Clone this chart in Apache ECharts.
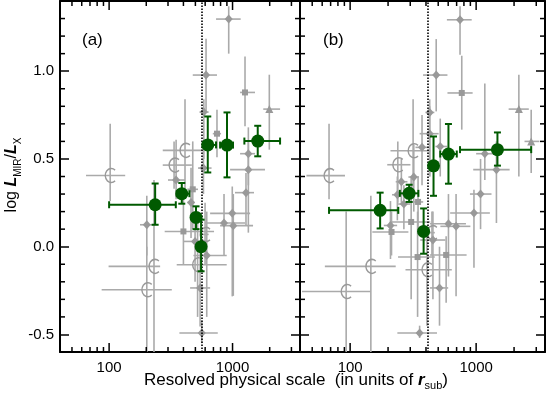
<!DOCTYPE html>
<html>
<head>
<meta charset="utf-8">
<script src="https://cdn.jsdelivr.net/npm/echarts@6.0.0/dist/echarts.min.js"></script>
<style>
  html, body { margin: 0; padding: 0; background: #fff; }
  #chart { width: 546px; height: 396px; }
</style>
</head>
<body>
<div id="chart"></div>
<script>
// axis ranges and ticks
const xMin = 40, xMax = 3520;
const yMin = -0.6, yMax = 1.4;
const xMajor = [100, 1000];
const xMinor = [50, 60, 70, 80, 90, 200, 300, 400, 500, 600, 700, 800, 900, 2000, 3000];
const yMajor = [-0.5, 0, 0.5, 1.0];
const yMinor = [-0.4, -0.3, -0.2, -0.1, 0.1, 0.2, 0.3, 0.4, 0.6, 0.7, 0.8, 0.9, 1.1, 1.2, 1.3];
const cutA = 563, cutB = 415;

// each row: [scale, logL, scaleLo, scaleHi, logLLo, logLHi]
// panel (a)
const greenA = [
  [236, 0.239, 100, 347, 0.125, 0.36],
  [388, 0.302, 353, 447, 0.245, 0.363],
  [506, 0.167, 481, 531, 0.10, 0.23],
  [556, 0.0, 536, 577, -0.14, 0.154],
  [630, 0.58, 574, 735, 0.423, 0.742],
  [902, 0.579, 793, 1009, 0.395, 0.765],
  [1600, 0.602, 1247, 2427, 0.515, 0.689]
];
const diamondA = [
  [931, 1.297, 735, 1164, 1.10, 1.37],
  [610, 0.978, 476, 748, 0.77, 1.185],
  [585, 0.767, 540, 640, 0.50, 0.84],
  [1343, 0.53, 1151, 1521, 0.35, 0.68],
  [1343, 0.439, 955, 1832, 0.08, 0.60],
  [1285, 0.308, 1047, 1493, 0.12, 0.42],
  [995, 0.19, 658, 1387, -0.283, 0.343],
  [853, 0.135, 599, 1262, -0.05, 0.30],
  [1014, 0.12, 793, 1466, -0.28, 0.30],
  [202, 0.125, 178, 227, -0.05, 0.29],
  [546, -0.235, 453, 658, -0.454, 0.0],
  [563, -0.492, 371, 759, -0.55, -0.42],
  [618, -0.05, 482, 897, -0.40, 0.20],
  [349, 0.38, 300, 412, 0.27, 0.61],
  [461, 0.252, 430, 495, 0.05, 0.45],
  [581, 0.448, 525, 676, 0.30, 0.60],
  [497, 0.03, 398, 631, -0.2, 0.2]
];
const squareA = [
  [1262, 0.879, 1151, 1521, 0.686, 1.084],
  [748, 0.644, 692, 807, 0.51, 0.78],
  [400, 0.087, 282, 708, -0.10, 0.30],
  [476, 0.327, 430, 525, 0.10, 0.60]
];
const triangleA = [
  [1986, 0.784, 1774, 2427, 0.553, 0.98]
];
const openA = [
  [102, 0.406, 65, 135, 0.26, 0.70],
  [336, 0.465, 272, 468, 0.33, 0.60],
  [412, 0.549, 272, 581, 0.30, 0.84],
  [231, -0.112, 99, 259, -0.8, 0.38],
  [202, -0.245, 87, 322, -0.8, 0.0],
  [599, 0.07, 560, 640, -0.10, 0.25],
  [521, -0.103, 353, 897, -0.40, 0.20]
];

// panel (b)
const greenB = [
  [173, 0.207, 68, 241, 0.104, 0.308],
  [294, 0.304, 248, 348, 0.255, 0.353],
  [383, 0.087, 368, 398, -0.04, 0.218],
  [459, 0.461, 442, 477, 0.29, 0.628],
  [603, 0.528, 519, 702, 0.359, 0.699],
  [1476, 0.553, 745, 2735, 0.462, 0.651]
];
const diamondB = [
  [745, 1.293, 586, 922, 1.094, 1.37],
  [482, 0.978, 379, 592, 0.771, 1.183],
  [428, 0.765, 396, 466, 0.40, 0.84],
  [428, 0.644, 356, 504, 0.40, 0.80],
  [372, 0.566, 330, 420, 0.35, 0.75],
  [519, 0.571, 475, 590, 0.40, 0.73],
  [1172, 0.53, 1000, 1380, 0.38, 0.93],
  [1449, 0.439, 948, 1845, 0.135, 0.60],
  [320, 0.397, 290, 352, 0.20, 0.58],
  [1084, 0.30, 893, 1324, 0.10, 0.50],
  [961, 0.192, 622, 1285, -0.12, 0.325],
  [603, 0.131, 430, 830, -0.17, 0.30],
  [693, 0.116, 520, 900, -0.283, 0.30],
  [209, 0.121, 185, 236, -0.07, 0.26],
  [454, 0.038, 360, 570, -0.30, 0.20],
  [512, -0.235, 430, 600, -0.45, 0.0],
  [356, -0.492, 237, 489, -0.52, -0.45],
  [267, 0.243, 240, 300, 0.10, 0.35],
  [237, 0.296, 215, 262, 0.15, 0.40],
  [255, 0.37, 230, 285, 0.25, 0.50]
];
const squareB = [
  [769, 0.876, 592, 938, 0.667, 1.088],
  [213, 0.084, 150, 290, -0.05, 0.20],
  [305, 0.141, 209, 433, -0.30, 0.40],
  [343, -0.059, 240, 470, -0.40, 0.20],
  [578, -0.047, 430, 840, -0.32, 0.06],
  [346, 0.255, 310, 380, 0.10, 0.40]
];
const triangleB = [
  [2183, 0.784, 1811, 2618, 0.40, 0.98],
  [2735, 0.60, 2421, 3177, 0.42, 0.78]
];
const openB = [
  [316, 0.547, 209, 433, 0.30, 0.84],
  [239, 0.467, 197, 301, 0.25, 0.60],
  [446, 0.08, 420, 470, -0.05, 0.20],
  [407, -0.131, 275, 641, -0.45, 0.10],
  [146, -0.112, 63, 230, -0.8, 0.29],
  [93, -0.255, 41.5, 146, -0.8, 0.20],
  [68, 0.405, 45, 91, 0.27, 0.70]
];

const font = 'Liberation Sans, Arial, Helvetica, sans-serif';
const greyLine = '#aaaaaa';
const greyMark = '#999999';
const green = '#005a00';
const cPath = 'path://M12.5 2.64A7 7 0 1 0 12.5 13.36';

let chart = echarts.init(document.getElementById('chart'), null, {renderer: 'canvas'});

function errRender(color, width, cap) {
  return function (params, api) {
    let x = api.value(0), y = api.value(1);
    let a = api.coord([api.value(2), y]), b = api.coord([api.value(3), y]);
    let c = api.coord([x, api.value(4)]), d = api.coord([x, api.value(5)]);
    let style = {stroke: color, lineWidth: width, fill: null};
    let kids = [
      {type: 'line', shape: {x1: a[0], y1: a[1], x2: b[0], y2: b[1]}, style: style},
      {type: 'line', shape: {x1: c[0], y1: c[1], x2: d[0], y2: d[1]}, style: style}
    ];
    if (cap) {
      [a, b].forEach(p => kids.push({type: 'line', shape: {x1: p[0], y1: p[1] - cap, x2: p[0], y2: p[1] + cap}, style: style}));
      [c, d].forEach(p => kids.push({type: 'line', shape: {x1: p[0] - cap, y1: p[1], x2: p[0] + cap, y2: p[1]}, style: style}));
    }
    return {type: 'group', children: kids};
  };
}

// x ticks (log axis): inward strokes on bottom and top frame, length from dim 2
function xTickRender(params, api) {
  let style = {stroke: '#000', lineWidth: 1.5, fill: null};
  let len = api.value(2);
  let p = api.coord([api.value(0), yMin]);
  let q = api.coord([api.value(0), yMax]);
  return {type: 'group', children: [
    {type: 'line', shape: {x1: p[0], y1: p[1], x2: p[0], y2: p[1] - len}, style: style},
    {type: 'line', shape: {x1: q[0], y1: q[1], x2: q[0], y2: q[1] + len}, style: style}
  ]};
}

// y minor ticks: inward strokes on left and right frame
function yTickRender(params, api) {
  let style = {stroke: '#000', lineWidth: 1.5, fill: null};
  let p = api.coord([xMin, api.value(1)]);
  let q = api.coord([xMax, api.value(1)]);
  return {type: 'group', children: [
    {type: 'line', shape: {x1: p[0], y1: p[1], x2: p[0] + 5, y2: p[1]}, style: style},
    {type: 'line', shape: {x1: q[0], y1: q[1], x2: q[0] - 5, y2: q[1]}, style: style}
  ]};
}

function xAxesFor(g) {
  let base = {
    gridIndex: g, type: 'log', logBase: 10, min: xMin, max: xMax,
    splitLine: {show: false},
    axisLine: {show: true, onZero: false, lineStyle: {color: '#000', width: 2}},
    axisTick: {show: false}
  };
  return [
    Object.assign({}, base, {
      position: 'bottom',
      axisLabel: {customValues: xMajor, formatter: v => String(Math.round(v)), fontSize: 15, fontFamily: font, color: '#000', margin: 8}
    }),
    Object.assign({}, base, {position: 'top', axisLabel: {show: false}})
  ];
}

function yAxesFor(g) {
  let base = {
    gridIndex: g, type: 'value', min: yMin, max: yMax,
    splitLine: {show: false},
    axisLine: {show: true, onZero: false, lineStyle: {color: '#000', width: 2}},
    axisTick: {show: true, inside: true, length: 9, customValues: yMajor, lineStyle: {color: '#000', width: 1.5}}
  };
  return [
    Object.assign({}, base, {
      position: 'left',
      axisLabel: g === 0
        ? {customValues: yMajor, formatter: v => v.toFixed(1), fontSize: 15, fontFamily: font, color: '#000', margin: 6}
        : {show: false}
    }),
    Object.assign({}, base, {position: 'right', axisLabel: {show: false}})
  ];
}

function panelSeries(g, sets, cut) {
  let ax = {xAxisIndex: 2 * g, yAxisIndex: 2 * g};
  let greys = [].concat(sets.diamond, sets.square, sets.triangle, sets.open);
  let out = [];
  out.push(Object.assign({
    type: 'custom', data: greys, encode: {x: 0, y: 1},
    renderItem: errRender(greyLine, 1.6, 0), clip: true, z: 2, silent: true
  }, ax));
  let marks = [
    [sets.diamond, 'diamond', [8, 9], false],
    [sets.square, 'rect', [6, 6], false],
    [sets.triangle, 'triangle', [8, 8], false],
    [sets.open, cPath, [12, 14], true]
  ];
  marks.forEach(m => {
    out.push(Object.assign({
      type: 'scatter', data: m[0], encode: {x: 0, y: 1},
      symbol: m[1], symbolSize: m[2], symbolKeepAspect: true, z: 3, silent: true,
      itemStyle: m[3]
        ? {color: 'rgba(0,0,0,0)', borderColor: greyMark, borderWidth: 1.5, opacity: 1}
        : {color: greyMark, opacity: 1}
    }, ax));
  });
  out.push(Object.assign({
    type: 'line', data: [], z: 4, silent: true,
    markLine: {
      silent: true, symbol: 'none', label: {show: false},
      lineStyle: {color: '#000', width: 1.6, type: [1.5, 1.5]},
      data: [{xAxis: cut}]
    }
  }, ax));
  out.push(Object.assign({
    type: 'custom', data: sets.green, encode: {x: 0, y: 1},
    renderItem: errRender(green, 2, 3.5), clip: true, z: 5, silent: true
  }, ax));
  out.push(Object.assign({
    type: 'scatter', data: sets.green, encode: {x: 0, y: 1},
    symbol: 'circle', symbolSize: 13, z: 6, silent: true,
    itemStyle: {color: green, opacity: 1}
  }, ax));
  // tick rows: [value, anchor, length]
  let xTicks = xMajor.map(v => [v, 0.4, 9]).concat(xMinor.map(v => [v, 0.4, 5]));
  out.push(Object.assign({
    type: 'custom', data: xTicks, encode: {x: 0, y: 1},
    renderItem: xTickRender, z: 7, silent: true
  }, ax));
  out.push(Object.assign({
    type: 'custom', data: yMinor.map(v => [1000, v]), encode: {x: 0, y: 1},
    renderItem: yTickRender, z: 7, silent: true
  }, ax));
  return out;
}

let option = {
  animation: false,
  backgroundColor: '#fff',
  grid: [
    {left: 60, top: 1, width: 240, height: 351, outerBoundsMode: 'none'},
    {left: 300, top: 1, width: 245, height: 351, outerBoundsMode: 'none'}
  ],
  xAxis: xAxesFor(0).concat(xAxesFor(1)),
  yAxis: yAxesFor(0).concat(yAxesFor(1)),
  series: panelSeries(0, {green: greenA, diamond: diamondA, square: squareA, triangle: triangleA, open: openA}, cutA)
    .concat(panelSeries(1, {green: greenB, diamond: diamondB, square: squareB, triangle: triangleB, open: openB}, cutB)),
  graphic: [
    {type: 'text', x: 82, y: 40, style: {text: '(a)', fontSize: 17, fontFamily: font, fill: '#000', verticalAlign: 'middle'}},
    {type: 'text', x: 323, y: 40, style: {text: '(b)', fontSize: 17, fontFamily: font, fill: '#000', verticalAlign: 'middle'}},
    {
      type: 'text', x: 296, y: 380,
      style: {
        text: '{n|Resolved physical scale  (in units of }{r|r}{s|sub}{n|)}',
        align: 'center', verticalAlign: 'middle', fill: '#000',
        rich: {
          n: {fontSize: 17, fontFamily: font, lineHeight: 23, fill: '#000'},
          r: {fontSize: 17, fontFamily: font, fontStyle: 'italic', fontWeight: 'bold', lineHeight: 23, fill: '#000'},
          s: {fontSize: 11, fontFamily: font, lineHeight: 11, verticalAlign: 'bottom', fill: '#000'}
        }
      }
    },
    {
      type: 'text', x: 12, y: 175, rotation: Math.PI / 2,
      style: {
        text: '{n|log }{L|L}{s|MIR}{n|/}{L|L}{s|X}',
        align: 'center', verticalAlign: 'middle', fill: '#000',
        rich: {
          n: {fontSize: 16, fontFamily: font, lineHeight: 22, fill: '#000'},
          L: {fontSize: 16, fontFamily: font, fontStyle: 'italic', fontWeight: 'bold', lineHeight: 22, fill: '#000'},
          s: {fontSize: 10, fontFamily: font, lineHeight: 10, verticalAlign: 'bottom', fill: '#000'}
        }
      }
    }
  ]
};

chart.setOption(option);
</script>
</body>
</html>
